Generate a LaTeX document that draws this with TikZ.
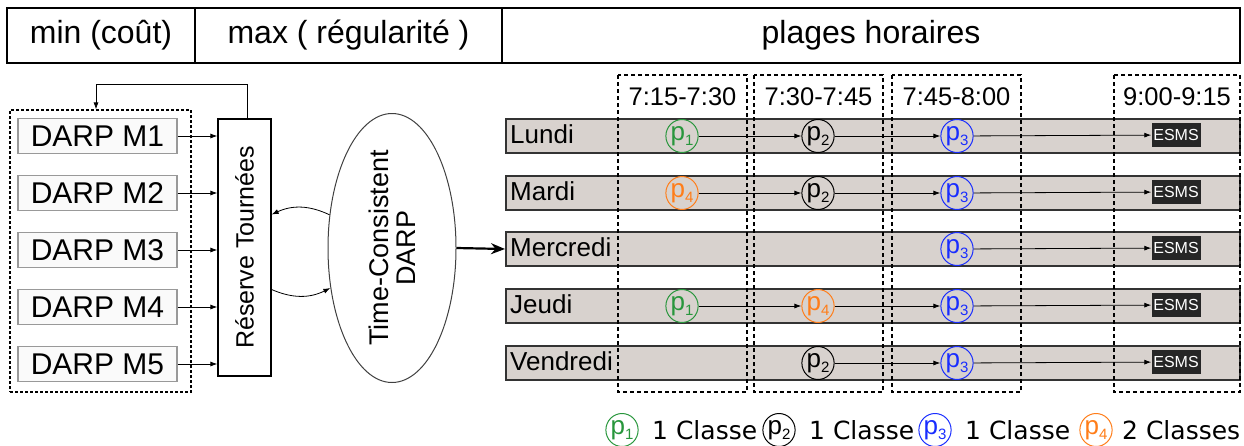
\documentclass[tikz,border=0pt]{standalone}
\usepackage{fontspec}
\setmainfont{Liberation Sans}
\newfontfamily\legendfont{DejaVu Sans}
\usetikzlibrary{arrows.meta,shapes.geometric}
\definecolor{pgreen}{RGB}{40,150,60}
\definecolor{pblue}{RGB}{25,45,255}
\definecolor{porange}{RGB}{255,125,25}
\definecolor{rowfill}{RGB}{216,210,206}
\newcommand{\pl}[1]{p\raisebox{-5pt}{\fontsize{15}{15}\selectfont #1}}
\newcommand{\fs}[1]{\fontsize{#1}{#1}\selectfont}
\tikzset{
  headbox/.style={draw, line width=1.2pt, minimum height=55pt, inner sep=0pt, font=\fs{32}},
  darpbox/.style={draw=black!40, fill=black!2, line width=1.2pt, minimum width=159pt,
    minimum height=35pt, inner sep=0pt, font=\fs{30}},
  rowbox/.style={draw=black!80, fill=rowfill, line width=2pt, minimum width=734pt,
    minimum height=34pt, inner sep=0pt},
  daylabel/.style={anchor=west, inner sep=0pt, font=\fs{26}},
  slotlabel/.style={inner sep=0pt, font=\fs{25.5}},
  pnode/.style={ellipse, draw=#1, text=#1, line width=1pt, minimum width=30pt,
    minimum height=33pt, inner sep=0pt, font=\fs{26}},
  esms/.style={fill=black!85, text=white, minimum width=49pt, minimum height=24pt,
    inner sep=0pt, font=\fs{16}},
  link/.style={-{Latex[length=7pt,width=5pt]}, line width=0.8pt},
  slot/.style={draw, line width=1.2pt, dash pattern=on 4pt off 3pt},
  legtext/.style={anchor=west, inner sep=0pt, font=\legendfont\fs{25}},
}
\begin{document}
\begin{tikzpicture}[x=1pt, y=-1pt]
    \useasboundingbox (0,0) rectangle (1244,445);
    % header
    \node[headbox, minimum width=188pt] (hmin) at (101,35.5) {min (coût)};
    \node[headbox, minimum width=307pt] (hmax) at (348.5,35.5) {max ( régularité )};
    \node[headbox, minimum width=738pt] (hplages) at (871,35.5) {plages horaires};
    % DARP models
    \node[draw, line width=1.2pt, dash pattern=on 3pt off 2pt, minimum width=181pt,
        minimum height=282pt, inner sep=0pt] (grp) at (100.5,251) {};
    \foreach \i in {1,...,5}{
        \node[darpbox] (d\i) at (97.5,79+57*\i) {DARP M\i};}
    \node[draw, line width=1.2pt, minimum width=53pt, minimum height=257pt,
        inner sep=0pt] (res) at (244.5,247.5) {};
    \node[rotate=90, inner sep=0pt, font=\fs{25}] (restext) at (res.center) {Réserve Tournées};
    \foreach \i in {1,...,5}{
        \draw[link] (d\i.east) -- (d\i.east -| res.west);}
    \draw[link] ([xshift=2.5pt]res.north) -- ++(0,-34) -| ([xshift=-4.5pt]grp.north);
    % time consistent
    \node[ellipse, draw=black!75, line width=1pt, minimum width=128pt,
        minimum height=269pt] (tc) at (392,248) {};
    \node[rotate=90, align=center, inner sep=0pt, font=\fs{27}] (tctext) at (392,248)
        {Time-Consistent\\DARP};
    \draw[link] (tc.152) to[bend right=25] ([yshift=33pt]res.east);
    \draw[link] ([yshift=-42pt]res.east) to[bend right=25] (tc.213);
    % rows
    \node[rowbox] (lun) at (873,136) {};
    \node[rowbox] (mar) at (873,193) {};
    \node[rowbox] (mer) at (873,249) {};
    \node[rowbox] (jeu) at (873,306) {};
    \node[rowbox] (ven) at (873,363) {};
    \draw[-{Stealth[length=14pt,width=11pt]}, line width=2.2pt] (tc.east) -- (mer.west);
    \node[daylabel] (lunt) at (510,134) {Lundi};
    \node[daylabel] (mart) at (510,191) {Mardi};
    \node[daylabel] (mert) at (510,247) {Mercredi};
    \node[daylabel] (jeut) at (510,304) {Jeudi};
    \node[daylabel] (vent) at (510,361) {Vendredi};
    % time slots
    \draw[slot] (618,75) rectangle (747,392);
    \draw[slot] (754,75) rectangle (883,392);
    \draw[slot] (892,75) rectangle (1021,392);
    \draw[slot] (1114,75) rectangle (1240,392);
    \node[slotlabel] (s1) at (682.5,97) {7:15-7:30};
    \node[slotlabel] (s2) at (818.5,97) {7:30-7:45};
    \node[slotlabel] (s3) at (956.5,97) {7:45-8:00};
    \node[slotlabel] (s4) at (1177,97) {9:00-9:15};
    % Lundi
    \node[pnode=pgreen] (lun1) at (682,136) {\pl{1}};
    \node[pnode=black] (lun2) at (818,136) {\pl{2}};
    \node[pnode=pblue] (lun3) at (957,136) {\pl{3}};
    \node[esms] (lunE) at (1176,135) {ESMS};
    \draw[link] (lun1) -- (lun2);
    \draw[link] (lun2) -- (lun3);
    \draw[link] (lun3) -- (lunE);
    % Mardi
    \node[pnode=porange] (mar1) at (682,193) {\pl{4}};
    \node[pnode=black] (mar2) at (818,193) {\pl{2}};
    \node[pnode=pblue] (mar3) at (957,193) {\pl{3}};
    \node[esms] (marE) at (1176,192) {ESMS};
    \draw[link] (mar1) -- (mar2);
    \draw[link] (mar2) -- (mar3);
    \draw[link] (mar3) -- (marE);
    % Mercredi
    \node[pnode=pblue] (mer3) at (957,249) {\pl{3}};
    \node[esms] (merE) at (1176,248) {ESMS};
    \draw[link] (mer3) -- (merE);
    % Jeudi
    \node[pnode=pgreen] (jeu1) at (682,306) {\pl{1}};
    \node[pnode=porange] (jeu2) at (818,306) {\pl{4}};
    \node[pnode=pblue] (jeu3) at (957,306) {\pl{3}};
    \node[esms] (jeuE) at (1176,305) {ESMS};
    \draw[link] (jeu1) -- (jeu2);
    \draw[link] (jeu2) -- (jeu3);
    \draw[link] (jeu3) -- (jeuE);
    % Vendredi
    \node[pnode=black] (ven2) at (818,363) {\pl{2}};
    \node[pnode=pblue] (ven3) at (957,363) {\pl{3}};
    \node[esms] (venE) at (1176,362) {ESMS};
    \draw[link] (ven2) -- (ven3);
    \draw[link] (ven3) -- (venE);
    % legend
    \node[pnode=pgreen] (l1) at (622,430) {\pl{1}};
    \node[legtext] (l1t) at (652,430) {1 Classe};
    \node[pnode=black] (l2) at (779,430) {\pl{2}};
    \node[legtext] (l2t) at (809,430) {1 Classe};
    \node[pnode=pblue] (l3) at (935,430) {\pl{3}};
    \node[legtext] (l3t) at (965,430) {1 Classe};
    \node[pnode=porange] (l4) at (1096,430) {\pl{4}};
    \node[legtext] (l4t) at (1122,430) {2 Classes};
\end{tikzpicture}
\end{document}
